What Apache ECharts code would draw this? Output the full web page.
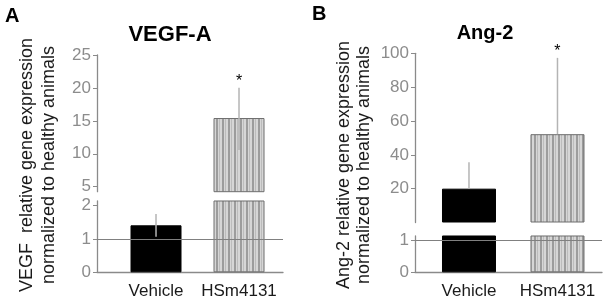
<!DOCTYPE html>
<html>
<head>
<meta charset="utf-8">
<script src="https://cdn.jsdelivr.net/npm/echarts@6/dist/echarts.min.js"></script>
<style>
  html, body { margin: 0; padding: 0; background: #fff; }
  #chart { width: 607px; height: 304px; }
</style>
</head>
<body>
<div id="chart"></div>
<script>
// --- data ---
const categories = ['Vehicle', 'HSm4131'];
const categoryPos = [1, 2];
const significant = [0, 1];

// panel A: VEGF-A
const vegfMean = [1.41, 15.43];
const vegfErrLow = [1.07, 10.57];
const vegfErrHigh = [1.75, 20.03];
const vegfTopTicks = [5, 10, 15, 20, 25];
const vegfBottomTicks = [0, 1, 2];

// panel B: Ang-2
const ang2Mean = [20, 52.2];
const ang2ErrLow = [20, 52.2];
const ang2ErrHigh = [35.6, 97.3];
const ang2TopTicks = [20, 40, 60, 80, 100];
const ang2BottomTicks = [0, 1];

const referenceLevel = 1;

// --- styles ---
const FONT = 'Liberation Sans, Arial, sans-serif';
const AXIS_GRAY = '#8a8a8a';
const LABEL_GRAY = '#8c8c8c';
const ERR_GRAY = '#b4b4b4';

// striped fill for the HSm4131 bars
const makeStripes = () => {
  const c = document.createElement('canvas');
  c.width = 6;
  c.height = 8;
  const g = c.getContext('2d');
  g.fillStyle = '#d6d6d6';
  g.fillRect(0, 0, 6, 8);
  g.fillStyle = '#9c9c9c';
  g.fillRect(0, 0, 2, 8);
  g.fillStyle = '#bcbcbc';
  g.fillRect(3, 0, 1, 8);
  return c;
};
const stripes = { image: makeStripes(), repeat: 'repeat' };

const barStyles = [
  { color: '#000', borderColor: '#000', borderWidth: 1 },
  { color: stripes, borderColor: '#6e6e6e', borderWidth: 1 }
];

// grids: 0 = A top, 1 = A bottom, 2 = B top, 3 = B bottom
const grids = [
  { left: 97, right: 324, top: 55, height: 136.7 },
  { left: 97, right: 324, top: 201, height: 71.3 },
  { left: 415, right: 5, top: 53.3, height: 169.2 },
  { left: 415, right: 5, top: 236, height: 36.3 }
];
const xRange = [[0.289, 2.53], [0.289, 2.53], [0.39, 2.503], [0.39, 2.503]];
const yRange = [[4.24, 25], [0, 2.14], [0, 100], [0, 1.15]];
const yTicks = [vegfTopTicks, vegfBottomTicks, ang2TopTicks, ang2BottomTicks];
const panelOf = [0, 0, 1, 1];
const barWidths = [51, 54];

const makeXAxis = (i) => {
  const isBottom = i % 2 === 1;
  return {
    type: 'value',
    gridIndex: i,
    min: xRange[i][0],
    max: xRange[i][1],
    show: isBottom,
    axisLine: { show: true, onZero: false, lineStyle: { color: AXIS_GRAY, width: 1.3 } },
    axisTick: { show: false },
    splitLine: { show: false },
    axisLabel: {
      customValues: categoryPos,
      formatter: (v) => categories[Math.round(v) - 1],
      color: '#1a1a1a',
      fontSize: 17,
      fontFamily: FONT,
      margin: 11
    }
  };
};

const makeYAxis = (i) => ({
  type: 'value',
  gridIndex: i,
  min: yRange[i][0],
  max: yRange[i][1],
  axisLine: { show: true, onZero: false, lineStyle: { color: AXIS_GRAY, width: 1.3 } },
  axisTick: { show: true, inside: false, length: 4, customValues: yTicks[i], lineStyle: { color: AXIS_GRAY } },
  splitLine: { show: false },
  axisLabel: {
    customValues: yTicks[i],
    color: LABEL_GRAY,
    fontSize: 17,
    fontFamily: FONT,
    margin: 6
  }
});

// error bars (+ significance star), trimmed to their own grid
const renderError = (params, api) => {
  const x = api.value(0);
  const lo = api.value(1);
  const hi = api.value(2);
  const sig = api.value(3);
  const cs = params.coordSys;
  const top = cs.y;
  const bot = cs.y + cs.height;
  const pLo = api.coord([x, lo]);
  const pHi = api.coord([x, hi]);
  if (pHi[1] > bot || pLo[1] < top) return null;
  const children = [{
    type: 'line',
    shape: { x1: pLo[0], y1: Math.min(pLo[1], bot), x2: pHi[0], y2: Math.max(pHi[1], top) },
    style: { stroke: ERR_GRAY, lineWidth: 1.5 }
  }];
  if (sig && pHi[1] >= top) {
    children.push({
      type: 'text',
      style: {
        text: '*',
        x: pHi[0],
        y: pHi[1] - 6,
        align: 'center',
        verticalAlign: 'middle',
        fontSize: 16,
        fontFamily: FONT,
        fill: '#000'
      }
    });
  }
  return { type: 'group', children };
};

const series = [];
grids.forEach((g, i) => {
  const p = panelOf[i];
  const mean = p === 0 ? vegfMean : ang2Mean;
  const lo = p === 0 ? vegfErrLow : ang2ErrLow;
  const hi = p === 0 ? vegfErrHigh : ang2ErrHigh;
  const bar = {
    type: 'bar',
    xAxisIndex: i,
    yAxisIndex: i,
    clip: true,
    barWidth: barWidths[p],
    data: categories.map((c, k) => ({ value: [categoryPos[k], mean[k]], itemStyle: barStyles[k] }))
  };
  if (i % 2 === 1) {
    bar.markLine = {
      silent: true,
      symbol: 'none',
      label: { show: false },
      lineStyle: { color: '#808080', width: 1, type: 'solid' },
      data: [{ yAxis: referenceLevel }]
    };
  }
  series.push(bar);
  series.push({
    type: 'custom',
    xAxisIndex: i,
    yAxisIndex: i,
    z: 5,
    renderItem: renderError,
    encode: { x: 0, y: [1, 2] },
    data: categories.map((c, k) => [categoryPos[k], lo[k], hi[k], significant[k]])
  });
});

const text = (t, x, y, size, opts = {}) => ({
  type: 'text',
  x: x,
  y: y,
  rotation: opts.rotation || 0,
  style: {
    text: t,
    fontSize: size,
    fontWeight: opts.bold ? 'bold' : 'normal',
    fontFamily: FONT,
    fill: opts.color || '#000',
    align: opts.align || 'center',
    verticalAlign: 'middle'
  }
});

const chart = echarts.init(document.getElementById('chart'), null, { renderer: 'canvas' });
chart.setOption({
  animation: false,
  backgroundColor: '#fff',
  textStyle: { fontFamily: FONT },
  grid: grids,
  xAxis: grids.map((g, i) => makeXAxis(i)),
  yAxis: grids.map((g, i) => makeYAxis(i)),
  series: series,
  graphic: [
    text('A', 5, 16, 20, { bold: true, align: 'left' }),
    text('B', 312, 14, 20, { bold: true, align: 'left' }),
    text('VEGF-A', 170, 35, 22, { bold: true }),
    text('Ang-2', 485, 33, 20, { bold: true }),
    text('VEGF  relative gene expression', 27, 165, 18, { rotation: Math.PI / 2, color: '#1a1a1a' }),
    text('normalized to healthy animals', 49, 165, 18, { rotation: Math.PI / 2, color: '#1a1a1a' }),
    text('Ang-2 relative gene expression', 344, 165, 18, { rotation: Math.PI / 2, color: '#1a1a1a' }),
    text('normalized to healthy animals', 364, 165, 18, { rotation: Math.PI / 2, color: '#1a1a1a' })
  ]
});
</script>
</body>
</html>
